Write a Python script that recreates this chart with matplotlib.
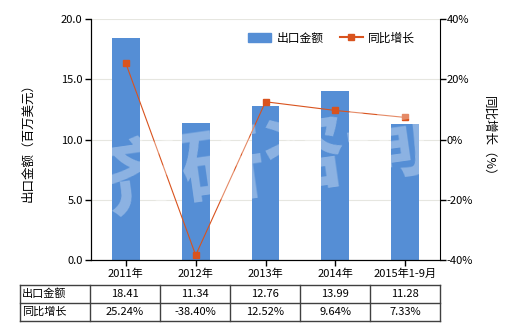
import matplotlib
matplotlib.use("Agg")
import matplotlib.pyplot as plt
from matplotlib.lines import Line2D
from matplotlib.patches import Patch

plt.rcParams['font.family'] = ['Noto Sans CJK SC', 'DejaVu Sans']

categories = ['2011年', '2012年', '2013年', '2014年', '2015年1-9月']
export_values = [18.41, 11.34, 12.76, 13.99, 11.28]
growth_values = [25.24, -38.40, 12.52, 9.64, 7.33]
export_labels = ['18.41', '11.34', '12.76', '13.99', '11.28']
growth_labels = ['25.24%', '-38.40%', '12.52%', '9.64%', '7.33%']

W, H = 520, 330
fig = plt.figure(figsize=(W/100, H/100), dpi=100)
ax_l, ax_r, ax_t, ax_b = 91, 440, 19, 260
ax = fig.add_axes([ax_l/W, 1-ax_b/H, (ax_r-ax_l)/W, (ax_b-ax_t)/H])

bar_color = '#558ed5'
line_color = '#d9531e'
x = list(range(len(categories)))
ax.bar(x, export_values, width=0.4, color=bar_color, zorder=2)
ax.set_xlim(-0.5, 4.5)
ax.set_ylim(0, 20)
ax.set_yticks([0, 5, 10, 15, 20])
ax.set_yticklabels(['0.0', '5.0', '10.0', '15.0', '20.0'], fontsize=8)
ax.set_xticks(x)
ax.set_xticklabels(categories, fontsize=8)
ax.grid(axis='y', color='#e6e6e0', linewidth=0.8, zorder=0)
ax.spines['top'].set_visible(False)
ax.spines['right'].set_visible(False)
ax.tick_params(axis='both', length=4, width=1, pad=2)
ax.set_ylabel('出口金额（百万美元）', fontsize=9, labelpad=19)

ax2 = ax.twinx()
ax2.plot(x, growth_values, color=line_color, linewidth=0.8, marker='s',
         markersize=4.5, zorder=3)
ax2.set_ylim(-40, 40)
ax2.set_yticks([-40, -20, 0, 20, 40])
ax2.set_yticklabels(['-40%', '-20%', '0%', '20%', '40%'], fontsize=8)
ax2.spines['top'].set_visible(False)
ax2.tick_params(axis='y', length=4, width=1, pad=1)
ax2.set_ylabel('同比增长（%）', fontsize=9, rotation=-90, labelpad=16)

# watermark
fig.text(0.51, 0.50, '齐研咨询', fontsize=60, color='white', alpha=0.33,
         ha='center', va='center', rotation=8, fontweight='bold', zorder=10)

handles = [Patch(color=bar_color),
           Line2D([0], [0], color=line_color, marker='s', markersize=4.5, linewidth=1.5)]
ax2.legend(handles, ['出口金额', '同比增长'], loc='center',
           bbox_to_anchor=(0.69, 0.921), ncol=2, frameon=False, fontsize=8.5,
           handlelength=1.9, columnspacing=1.4, handletextpad=0.5, borderpad=0)

# table
col_edges = [20, 90, 160, 230, 300, 370, 440]
row_edges = [285, 303, 321]
lc = '#404040'
for yy in row_edges:
    fig.add_artist(Line2D([col_edges[0]/W, col_edges[-1]/W], [1-yy/H, 1-yy/H],
                          color=lc, linewidth=1))
for xx in col_edges:
    fig.add_artist(Line2D([xx/W, xx/W], [1-row_edges[0]/H, 1-row_edges[-1]/H],
                          color=lc, linewidth=1))
rows = [('出口金额', export_labels), ('同比增长', growth_labels)]
for r, (name, labels) in enumerate(rows):
    yc = 1 - (row_edges[r] + row_edges[r+1]) / 2 / H
    fig.text((col_edges[0]+2)/W, yc, name, fontsize=8, ha='left', va='center')
    for c, lab in enumerate(labels):
        xc = (col_edges[c+1] + col_edges[c+2]) / 2 / W
        fig.text(xc, yc, lab, fontsize=8, ha='center', va='center')

fig.savefig('out.png', dpi=100)
